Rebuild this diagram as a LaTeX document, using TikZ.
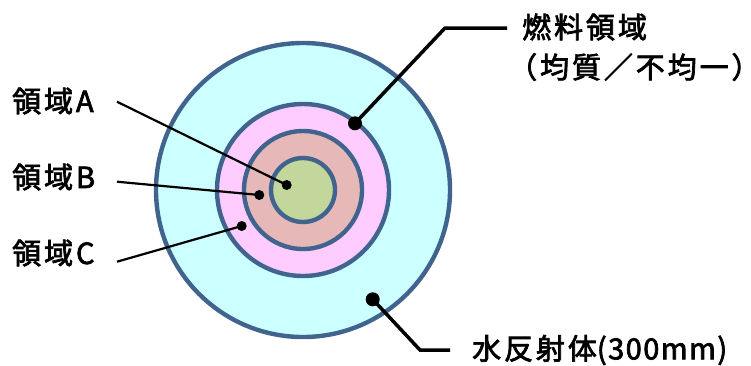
\documentclass[tikz,border=0pt]{standalone}
\usepackage{fontspec}
\setmainfont{Noto Sans CJK JP}[LetterSpace=10,FakeBold=2.5]
\begin{document}
\begin{tikzpicture}[x=1pt,y=-1pt,
  ring/.style={draw=ringblue,line width=4.4pt},
  thinlead/.style={line width=2.2pt,black},
  thicklead/.style={line width=3.5pt,black},
  lab/.style={inner sep=0pt,font=\fontsize{29}{32}\selectfont},
  smalldot/.style={circle,fill=black,inner sep=0pt,minimum size=10pt},
  bigdot/.style={circle,fill=black,inner sep=0pt,minimum size=14pt}]
\definecolor{ringblue}{HTML}{41648F}
\definecolor{cyanfill}{HTML}{CCFFFF}
\definecolor{pinkfill}{HTML}{FFCCFF}
\definecolor{brownfill}{HTML}{E6B9B8}
\definecolor{greenfill}{HTML}{C3D69B}
\useasboundingbox (0,0) rectangle (751,365);
\coordinate (c) at (303,190);
\draw[ring,fill=cyanfill] (c) circle[radius=147pt];
\draw[ring,fill=pinkfill] (c) circle[radius=86pt];
\draw[ring,fill=brownfill] (c) circle[radius=59pt];
\draw[ring,fill=greenfill] (c) circle[radius=32pt];
% labels
\node[lab,anchor=west] (la) at (12,101) {領域A};
\node[lab,anchor=west] (lb) at (12,177) {領域B};
\node[lab,anchor=west] (lc) at (12,253) {領域C};
\node[lab,anchor=west] (fuel1) at (522,27) {燃料領域};
\node[lab,anchor=west] (fuel2) at (508,67) {（均質／不均一）\kern-16pt};
\node[lab,anchor=west] (water) at (472,350) {水反射体{\addfontfeatures{LetterSpace=5}(300mm)}};
% dots
\node[smalldot] (da) at (286.7,185) {};
\node[smalldot] (db) at (259.3,195) {};
\node[smalldot] (dc) at (241.7,226) {};
\node[bigdot] (df) at (355,123.3) {};
\node[bigdot] (dw) at (372.7,299.3) {};
% leader start points
\coordinate (sa) at (117,101.7);
\coordinate (sb) at (117,181.7);
\coordinate (sc) at (117,261.7);
\coordinate (kf) at (445,28);
\coordinate (ef) at (507,28);
\coordinate (kw) at (420,350);
\coordinate (ew) at (450,350);
\draw[thinlead] (sa) -- (da.center);
\draw[thinlead] (sb) -- (db.center);
\draw[thinlead] (sc) -- (dc.center);
\draw[thicklead] (df.center) -- (kf) -- (ef);
\draw[thicklead] (dw.center) -- (kw) -- (ew);
\end{tikzpicture}
\end{document}
